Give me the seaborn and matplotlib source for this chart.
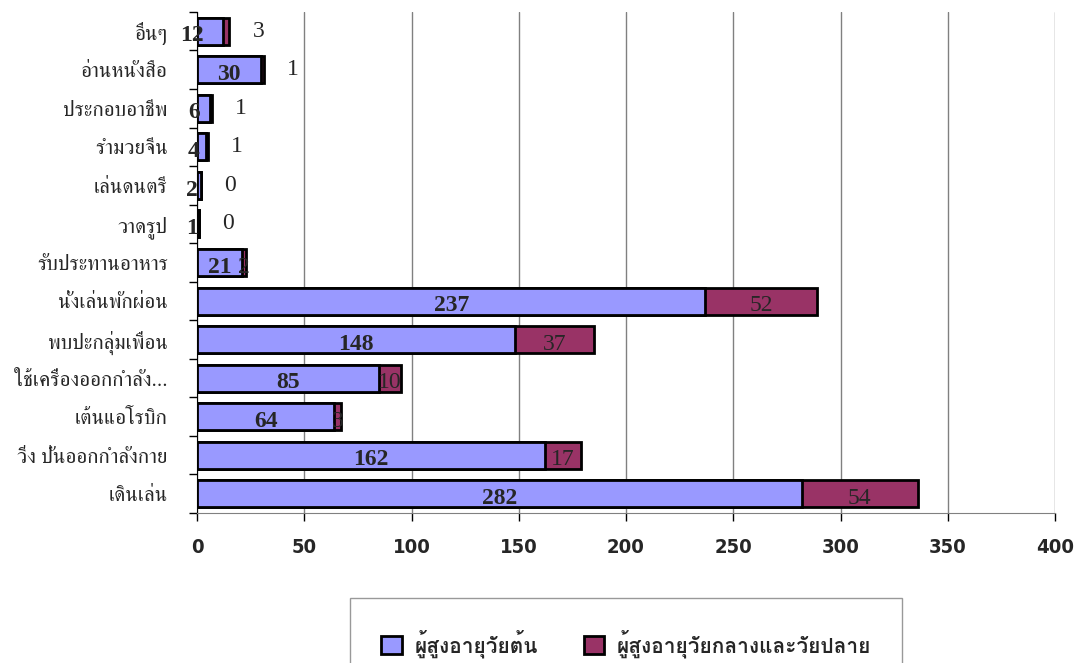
import matplotlib
matplotlib.use('Agg')
import matplotlib.pyplot as plt
from matplotlib import font_manager
from matplotlib.ft2font import FT2Font
from matplotlib.patches import Patch
import seaborn as sns
import pandas as pd

categories = ['อื่นๆ', 'อ่านหนังสือ', 'ประกอบอาชีพ', 'รำมวยจีน', 'เล่นดนตรี', 'วาดรูป',
              'รับประทานอาหาร', 'นั่งเล่นพักผ่อน', 'พบปะกลุ่มเพื่อน', 'ใช้เครื่องออกกำลัง...',
              'เต้นแอโรบิก', 'วิ่ง ปั่นออกกำลังกาย', 'เดินเล่น']
early = [12, 30, 6, 4, 2, 1, 21, 237, 148, 85, 64, 162, 282]
late = [3, 1, 1, 1, 0, 0, 2, 52, 37, 10, 3, 17, 54]
series_names = ['ผู้สูงอายุวัยต้น', 'ผู้สูงอายุวัยกลางและวัยปลาย']
xticks = [0, 50, 100, 150, 200, 250, 300, 350, 400]
# rows whose second label sits outside the bar
outside = ['อื่นๆ', 'อ่านหนังสือ', 'ประกอบอาชีพ', 'รำมวยจีน', 'เล่นดนตรี', 'วาดรูป']

df = pd.DataFrame({'cat': categories, 'early': early, 'late': late})
df['total'] = df['early'] + df['late']

# look for fonts that have thai glyphs, serif first
thai = []
for f in font_manager.fontManager.ttflist:
    try:
        if 0x0E01 in FT2Font(f.fname).get_charmap():
            thai.append(f.name)
    except Exception:
        continue
serif_thai = [n for n in thai if 'Serif' in n]
thai_font = serif_thai[0] if serif_thai else (thai[0] if thai else 'DejaVu Sans')
sans_thai = [n for n in thai if 'Serif' not in n]
legend_font = sans_thai[0] if sans_thai else thai_font

sns.set_style('white')
plt.rcParams['font.family'] = [thai_font, 'DejaVu Sans']

blue = '#9999FF'
maroon = '#993366'

fig = plt.figure(figsize=(10.85, 6.63), dpi=100)
ax = fig.add_axes([0.1816, 0.2262, 0.7908, 0.7558])

sns.barplot(data=df, x='total', y='cat', color=maroon, edgecolor='black',
            linewidth=2, width=0.7, orient='h', ax=ax, saturation=1)
sns.barplot(data=df, x='early', y='cat', color=blue, edgecolor='black',
            linewidth=2, width=0.7, orient='h', ax=ax, saturation=1)

ax.set_xlim(0, 400)
ax.set_xticks(xticks)
ax.set_xticklabels([str(t) for t in xticks], fontsize=14.5, fontweight='bold',
                   family=['DejaVu Sans'], fontstretch='condensed')
ax.set_xlabel('')
ax.set_ylabel('')
ax.set_yticks(range(len(categories)))
ax.set_yticklabels(categories, fontsize=15)
ax.set_yticks([i + 0.5 for i in range(-1, len(categories))], minor=True)
ax.tick_params(axis='y', which='major', length=0, pad=21)
ax.tick_params(axis='y', which='minor', length=6, width=1, color='black', direction='out', left=True)
ax.tick_params(axis='x', length=6, width=1, color='black', direction='out', bottom=True, pad=12)
ax.grid(axis='x', color='#808080', linewidth=1)
ax.set_axisbelow(True)
for s in ['top', 'right']:
    ax.spines[s].set_visible(False)
ax.spines['left'].set_color('black')
ax.spines['bottom'].set_color('#808080')

for i, row in df.iterrows():
    e, l = row['early'], row['late']
    if e < 15:
        ax.text(e / 4, i + 0.12, str(e), ha='right', va='center', fontsize=17,
                fontweight='bold', family=['Liberation Serif'])
    else:
        ax.text(e / 2, i + 0.12, str(e), ha='center', va='center', fontsize=17,
                fontweight='bold', family=['Liberation Serif'])
    if row['cat'] in outside:
        ax.annotate(str(l), (e + l, i), xytext=(21, 0), textcoords='offset points',
                    ha='center', va='center', fontsize=17, family=['Liberation Serif'])
    else:
        ax.text(e + l / 2, i + 0.12, str(l), ha='center', va='center', fontsize=17,
                family=['Liberation Serif'])

handles = [Patch(facecolor=blue, edgecolor='black', linewidth=2),
           Patch(facecolor=maroon, edgecolor='black', linewidth=2)]
leg = fig.legend(handles, series_names, loc='upper center', bbox_to_anchor=(0.577, 0.098),
                 ncol=2, frameon=True, fancybox=False, edgecolor='#808080',
                 prop={'family': [legend_font, 'DejaVu Sans'], 'size': 15, 'weight': 'bold'},
                 handlelength=1.0, handleheight=1.0, handletextpad=0.6,
                 columnspacing=2.2, borderpad=1.5, borderaxespad=0)
leg.get_frame().set_linewidth(1)

fig.savefig('out.png', dpi=100)
